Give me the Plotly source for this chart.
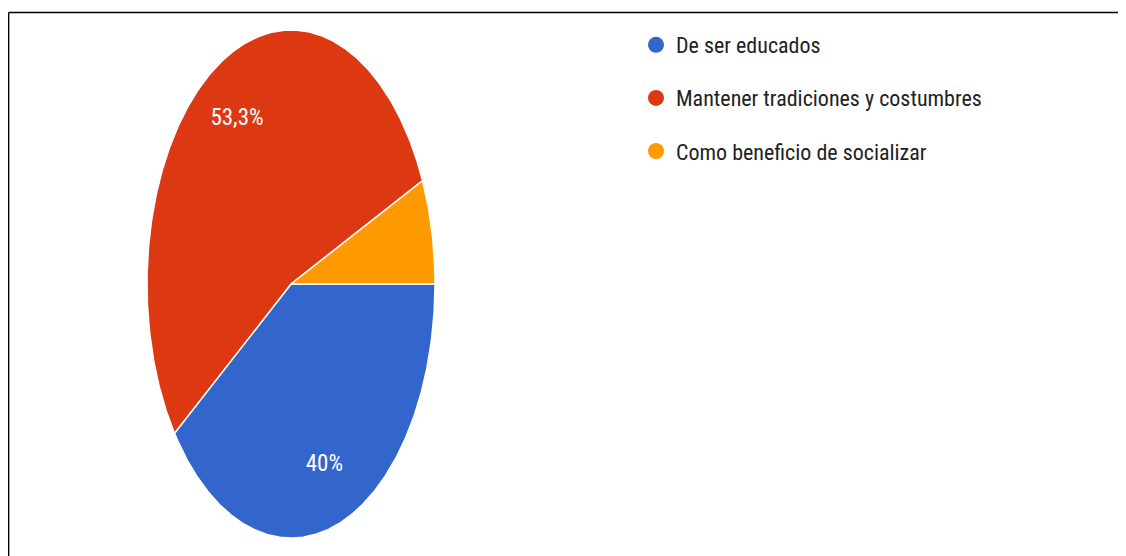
import numpy as np
import plotly.graph_objects as go

categories = ["De ser educados", "Mantener tradiciones y costumbres", "Como beneficio de socializar"]
values = [6, 8, 1]
labels_text = ["40%", "53,3%", ""]
colors = ["#3366cc", "#dc3912", "#ff9900"]

FONT = "Liberation Sans Narrow, Arial Narrow, Roboto Condensed, sans-serif"
OFF = 8  # page body margin
W, H = 1126 - OFF, 556 - OFF

fig = go.Figure()

total = float(sum(values))
start = 0.0  # 3 o'clock, going clockwise
lab_x, lab_y, lab_t = [], [], []
for cat, v, col, lt in zip(categories, values, colors, labels_text):
    span = 360.0 * v / total
    n = max(int(span * 2), 4)
    ang = np.radians(np.linspace(start, start - span, n))
    xs = np.concatenate([[0.0], np.cos(ang), [0.0]])
    ys = np.concatenate([[0.0], np.sin(ang), [0.0]])
    fig.add_trace(go.Scatter(
        x=xs, y=ys, mode="lines", fill="toself", fillcolor=col,
        line=dict(color="white", width=1.5), hoverinfo="text",
        text=cat, showlegend=False,
    ))
    mid = np.radians(start - span / 2)
    if lt:
        lab_x.append(0.75 * np.cos(mid))
        lab_y.append(0.75 * np.sin(mid))
        lab_t.append(lt)
    start -= span

fig.add_trace(go.Scatter(
    x=lab_x, y=lab_y, mode="text", text=lab_t,
    textfont=dict(family=FONT, size=23, color="white"),
    showlegend=False, hoverinfo="skip",
))

# legend entries
for i, (cat, col) in enumerate(zip(categories, colors)):
    fig.add_trace(go.Scatter(
        x=[None], y=[None], mode="markers", name=cat,
        marker=dict(color=col, size=18, symbol="circle"),
        legendgroup=f"g{i}",
    ))

# pixel placement of ellipse (figure pixel coords)
pad = 1.02
cx, cy, rx, ry = 291 - OFF, 284 - OFF, 144, 254
x0 = (cx - rx * pad) / W
x1 = (cx + rx * pad) / W
y0 = (H - (cy + ry * pad)) / H
y1 = (H - (cy - ry * pad)) / H

fig.update_layout(
    width=W, height=H,
    margin=dict(l=0, r=0, t=0, b=0),
    paper_bgcolor="white", plot_bgcolor="white",
    xaxis=dict(domain=[x0, x1], range=[-pad, pad], visible=False, fixedrange=True),
    yaxis=dict(domain=[y0, y1], range=[-pad, pad], visible=False, fixedrange=True),
    showlegend=True,
    legend=dict(
        x=(636 - OFF) / W, y=1 - 16 / H, xanchor="left", yanchor="top",
        font=dict(family=FONT, size=22, color="#222222"),
        tracegroupgap=21.5, itemwidth=30,
        bgcolor="rgba(0,0,0,0)",
    ),
    shapes=[
        dict(type="line", xref="paper", yref="paper", x0=0.6 / W, x1=1, y0=1 - 4.5 / H, y1=1 - 4.5 / H,
             line=dict(color="black", width=1.5)),
        dict(type="line", xref="paper", yref="paper", x0=0.6 / W, x1=0.6 / W, y0=0, y1=1 - 4.5 / H,
             line=dict(color="black", width=1.5)),
    ],
)

fig.write_html("out.html")
